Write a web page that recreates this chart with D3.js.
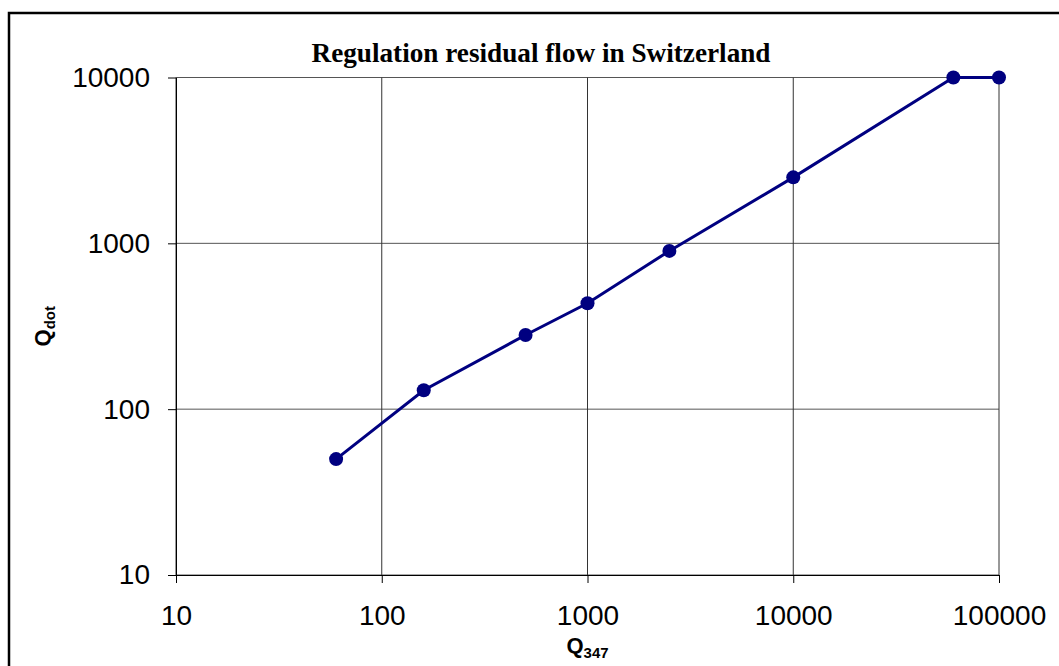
<!DOCTYPE html>
<html>
<head>
<meta charset="utf-8">
<script src="https://cdn.jsdelivr.net/npm/d3@7"></script>
<style>
  body { margin: 0; background: #fff; }
  svg { display: block; }
</style>
</head>
<body>
<div id="chart"></div>
<script>
// Q347 (x) and required residual flow Qdot (y)
const q347 = [60, 160, 500, 1000, 2500, 10000, 60000, 100000];
const qdot = [50, 130, 280, 435, 900, 2500, 10000, 10000];
const xTicks = [10, 100, 1000, 10000, 100000];
const yTicks = [10, 100, 1000, 10000];
const chartTitle = "Regulation residual flow in Switzerland";

const W = 1059, H = 666;
const margin = {top: 77.5, right: 60, bottom: 91, left: 176};

const svg = d3.select("#chart").append("svg")
  .attr("width", W)
  .attr("height", H);

svg.append("rect").attr("width", W).attr("height", H).attr("fill", "#fff");

// outer chart border (runs off the right and bottom edge)
svg.append("rect")
  .attr("x", 9).attr("y", 13)
  .attr("width", 1100).attr("height", 700)
  .attr("fill", "none")
  .attr("stroke", "#000")
  .attr("stroke-width", 2.5);

const x = d3.scaleLog()
  .domain([10, 100000])
  .range([margin.left, W - margin.right]);

const y = d3.scaleLog()
  .domain([10, 10000])
  .range([H - margin.bottom, margin.top]);

// gridlines
svg.append("g").selectAll("line")
  .data(yTicks)
  .join("line")
  .attr("x1", x(10)).attr("x2", x(100000))
  .attr("y1", d => y(d)).attr("y2", d => y(d))
  .attr("stroke", "#555");

svg.append("g").selectAll("line")
  .data(xTicks)
  .join("line")
  .attr("x1", d => x(d)).attr("x2", d => x(d))
  .attr("y1", y(10)).attr("y2", y(10000))
  .attr("stroke", "#333");

// axes
const xAxis = svg.append("g")
  .attr("transform", `translate(0,${y(10)})`)
  .call(d3.axisBottom(x).tickValues(xTicks).tickFormat(d3.format("d"))
    .tickSize(8).tickSizeOuter(0).tickPadding(22));

const yAxis = svg.append("g")
  .attr("transform", `translate(${x(10)},0)`)
  .call(d3.axisLeft(y).tickValues(yTicks).tickFormat(d3.format("d"))
    .tickSize(8).tickSizeOuter(0).tickPadding(18));

[xAxis, yAxis].forEach(g => {
  g.selectAll("path, line").attr("stroke", "#000");
  g.selectAll("text")
    .attr("font-family", "'Liberation Sans', Arial, sans-serif")
    .attr("font-size", "28px")
    .attr("fill", "#000");
});

// series line + markers
const pts = q347.map((d, i) => [d, qdot[i]]);

svg.append("path")
  .datum(pts)
  .attr("fill", "none")
  .attr("stroke", "#000080")
  .attr("stroke-width", 3)
  .attr("d", d3.line().x(d => x(d[0])).y(d => y(d[1])));

svg.append("g").selectAll("circle")
  .data(pts)
  .join("circle")
  .attr("cx", d => x(d[0]))
  .attr("cy", d => y(d[1]))
  .attr("r", 7)
  .attr("fill", "#000080");

// title
svg.append("text")
  .attr("x", 541)
  .attr("y", 62)
  .attr("text-anchor", "middle")
  .attr("font-family", "'Liberation Serif', 'Times New Roman', serif")
  .attr("font-weight", "bold")
  .attr("font-size", "28px")
  .attr("textLength", 459)
  .attr("lengthAdjust", "spacingAndGlyphs")
  .text(chartTitle);

// x axis title Q347
const xt = svg.append("text")
  .attr("x", (x(10) + x(100000)) / 2)
  .attr("y", 653)
  .attr("text-anchor", "middle")
  .attr("font-family", "'Liberation Sans', Arial, sans-serif")
  .attr("font-weight", "bold")
  .attr("font-size", "22px");
xt.append("tspan").text("Q");
xt.append("tspan").attr("font-size", "15px").attr("dy", 5).text("347");

// y axis title Qdot
const yt = svg.append("text")
  .attr("transform", `translate(50,${(y(10) + y(10000)) / 2}) rotate(-90)`)
  .attr("text-anchor", "middle")
  .attr("font-family", "'Liberation Sans', Arial, sans-serif")
  .attr("font-weight", "bold")
  .attr("font-size", "22px");
yt.append("tspan").text("Q");
yt.append("tspan").attr("font-size", "15px").attr("dy", 5).text("dot");
</script>
</body>
</html>
